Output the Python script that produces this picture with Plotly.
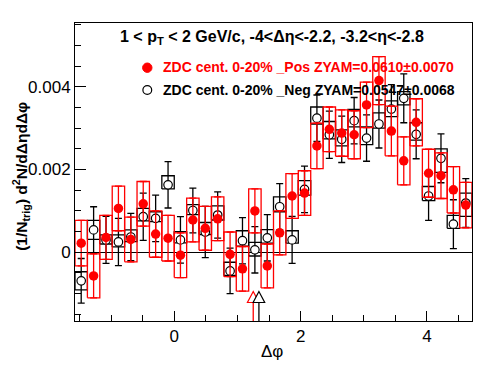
import plotly.graph_objects as go

# ---- data ----
phi_centers = [-1.4726, -1.2763, -1.0799, -0.8836, -0.6872, -0.4909, -0.2945, -0.0982,
               0.0982, 0.2945, 0.4909, 0.6872, 0.8836, 1.0799, 1.2763, 1.4726,
               1.6690, 1.8653, 2.0617, 2.2580, 2.4544, 2.6507, 2.8471, 3.0434,
               3.2398, 3.4361, 3.6325, 3.8288, 4.0252, 4.2215, 4.4179, 4.6142]
bin_width = 0.19635

pos_val = [0.00022, -0.00057, 0.00036, 0.00106, 0.00031, 0.00117, 0.00044, 0.00034,
           -0.00007, 0.00078, 0.00058, 0.00081, -0.00005, -0.00040, 0.00100, -0.00033,
           0.00047, 0.00136, 0.00143, 0.00257, 0.00297, 0.00288, 0.00284, 0.00356,
           0.00415, 0.00293, 0.00221, 0.00314, 0.00191, 0.00185, 0.00151, 0.00114]
pos_err = [0.00055, 0.00053, 0.00053, 0.00054, 0.00054, 0.00054, 0.00056, 0.00055,
           0.00054, 0.00053, 0.00053, 0.00053, 0.00054, 0.00054, 0.00053, 0.00053,
           0.00053, 0.00054, 0.00054, 0.00055, 0.00054, 0.00056, 0.00058, 0.00055,
           0.00058, 0.00060, 0.00058, 0.00057, 0.00058, 0.00055, 0.00056, 0.00055]

neg_val = [-0.00069, 0.00054, 0.00030, 0.00025, 0.00037, 0.00086, 0.00082, 0.00163,
           0.00030, 0.00101, 0.00049, 0.00090, -0.00045, 0.00028, 0.00006, 0.00035,
           0.00110, 0.00030, 0.00152, 0.00324, 0.00284, 0.00273, 0.00318, 0.00276,
           0.00310, 0.00346, 0.00372, 0.00285, 0.00136, 0.00227, 0.00068, 0.00119]
neg_stat = [0.00054, 0.00056, 0.00057, 0.00057, 0.00057, 0.00057, 0.00056, 0.00056,
            0.00056, 0.00054, 0.00062, 0.00056, 0.00055, 0.00056, 0.00056, 0.00056,
            0.00056, 0.00057, 0.00056, 0.00056, 0.00057, 0.00056, 0.00056, 0.00056,
            0.00058, 0.00059, 0.00059, 0.00059, 0.00059, 0.00059, 0.00059, 0.00059]
neg_sys_up = [0.00022, 0.00023, 0.00012, 0.00017, 0.00017, 0.00020, 0.00016, 0.00022,
              0.00020, 0.00014, 0.00023, 0.00022, 0.00021, 0.00024, 0.00018, 0.00020,
              0.00024, 0.00022, 0.00021, 0.00027, 0.00032, 0.00023, 0.00027, 0.00027,
              0.00027, 0.00020, 0.00016, 0.00028, 0.00023, 0.00023, 0.00021, 0.00024]
neg_sys_down = [0.00022, 0.00023, 0.00010, 0.00012, 0.00011, 0.00010, 0.00008, 0.00010,
                0.00007, 0.00010, 0.00006, 0.00012, 0.00011, 0.00013, 0.00015, 0.00013,
                0.00012, 0.00008, 0.00014, 0.00014, 0.00010, 0.00016, 0.00015, 0.00016,
                0.00010, 0.00018, 0.00016, 0.00014, 0.00011, 0.00034, 0.00010, 0.00032]

zyam_pos_phi = 1.25
zyam_neg_phi = 1.34

title_text = "<b>1 < p<sub>T</sub> < 2 GeV/c, -4<Δη<-2.2, -3.2<η<-2.8</b>"
pos_label = "<b>ZDC cent. 0-20% _Pos ZYAM=0.0610±0.0070</b>"
neg_label = "<b>ZDC cent. 0-20% _Neg ZYAM=0.0547±0.0068</b>"
y_title = "<b>(1/N<sub>trig</sub>) d<sup>2</sup>N/dΔηdΔφ</b>"
x_title = "Δφ"

FONT = "Liberation Sans, Arial, Helvetica, sans-serif"
RED = "#ff0000"


def box_outline(xc, lo, hi, w):
    xs, ys = [], []
    for c, a, b in zip(xc, lo, hi):
        xs += [c - w / 2, c + w / 2, c + w / 2, c - w / 2, c - w / 2, None]
        ys += [a, a, b, b, a, None]
    return xs, ys


fig = go.Figure()

# black (Neg) systematic boxes
nb_lo = [v - d for v, d in zip(neg_val, neg_sys_down)]
nb_hi = [v + u for v, u in zip(neg_val, neg_sys_up)]
bx, by = box_outline(phi_centers, nb_lo, nb_hi, bin_width)
fig.add_trace(go.Scatter(x=bx, y=by, mode="lines", line=dict(color="black", width=1.3),
                         hoverinfo="skip", showlegend=False))
# black points with stat errors
fig.add_trace(go.Scatter(x=phi_centers, y=neg_val, mode="markers",
                         marker=dict(symbol="circle", size=8.5, color="white",
                                     line=dict(color="black", width=1.2)),
                         error_y=dict(type="data", array=neg_stat, color="black",
                                      thickness=1.3, width=3.5),
                         showlegend=False))
# red (Pos) boxes
pb_lo = [v - e for v, e in zip(pos_val, pos_err)]
pb_hi = [v + e for v, e in zip(pos_val, pos_err)]
rx, ry = box_outline(phi_centers, pb_lo, pb_hi, bin_width)
fig.add_trace(go.Scatter(x=rx, y=ry, mode="lines", line=dict(color=RED, width=1.3),
                         hoverinfo="skip", showlegend=False))
fig.add_trace(go.Scatter(x=phi_centers, y=pos_val, mode="markers",
                         marker=dict(symbol="circle", size=9.5, color=RED),
                         error_y=dict(type="data", array=pos_err, color=RED,
                                      thickness=1.3, width=3.5),
                         showlegend=False))

shapes = []
# ZYAM arrows at the bottom
for xpos, col in [(zyam_pos_phi, RED), (zyam_neg_phi, "black")]:
    shapes.append(dict(type="line", xref="x", yref="paper", xsizemode="pixel",
                       ysizemode="pixel", xanchor=xpos, yanchor=0,
                       x0=0, x1=0, y0=0, y1=18.5, line=dict(color=col, width=1.3)))
    shapes.append(dict(type="path", xref="x", yref="paper", xsizemode="pixel",
                       ysizemode="pixel", xanchor=xpos, yanchor=0,
                       path="M -5.8 18.5 L 5.8 18.5 L 0 29.5 Z",
                       fillcolor="white", line=dict(color=col, width=1.2)))
# legend markers
shapes.append(dict(type="circle", xref="paper", yref="paper", xsizemode="pixel",
                   ysizemode="pixel", xanchor=0.1821, yanchor=0.850,
                   x0=-4.7, x1=4.7, y0=-4.7, y1=4.7, fillcolor=RED,
                   line=dict(color=RED, width=1)))
shapes.append(dict(type="circle", xref="paper", yref="paper", xsizemode="pixel",
                   ysizemode="pixel", xanchor=0.1821, yanchor=0.7752,
                   x0=-4.4, x1=4.4, y0=-4.4, y1=4.4, fillcolor="white",
                   line=dict(color="black", width=1.2)))

annotations = [
    dict(text=title_text, x=0.4955, y=0.953, xref="paper", yref="paper",
         xanchor="center", yanchor="middle", showarrow=False,
         font=dict(family=FONT, size=16, color="black")),
    dict(text=pos_label, x=0.2159, y=0.8507, xref="paper", yref="paper",
         xanchor="left", yanchor="middle", showarrow=False,
         font=dict(family=FONT, size=14, color=RED)),
    dict(text=neg_label, x=0.2159, y=0.7768, xref="paper", yref="paper",
         xanchor="left", yanchor="middle", showarrow=False,
         font=dict(family=FONT, size=14, color="black")),
    dict(text=y_title, x=-0.1688, y=0.487, xref="paper", yref="paper",
         xanchor="left", yanchor="middle", showarrow=False, textangle=-90,
         font=dict(family=FONT, size=15.5, color="black")),
    dict(text=x_title, x=0.4955, y=-0.103, xref="paper", yref="paper",
         xanchor="center", yanchor="middle", showarrow=False,
         font=dict(family=FONT, size=17, color="black")),
]

# the page body has an 8px margin, so the figure is 8px smaller and its
# left/top margins 8px less to keep the frame at the reference position
fig.update_layout(
    width=488, height=366,
    margin=dict(l=67, r=24, t=15, b=53),
    paper_bgcolor="white", plot_bgcolor="white",
    showlegend=False,
    shapes=shapes, annotations=annotations,
    font=dict(family=FONT, size=17, color="black"),
)
fig.update_xaxes(range=[-1.5708, 4.7124], showgrid=False, zeroline=False,
                 showline=True, mirror=True, linecolor="black", linewidth=1,
                 ticks="inside", ticklen=10, tickwidth=1, tickcolor="black",
                 tick0=0, dtick=2,
                 minor=dict(ticks="inside", ticklen=6, tickwidth=1, tickcolor="black",
                            tick0=0, dtick=0.5, showgrid=False),
                 tickfont=dict(family=FONT, size=17, color="black"))
fig.update_yaxes(range=[-0.00166, 0.00554], showgrid=False,
                 zeroline=True, zerolinecolor="black", zerolinewidth=1,
                 showline=True, mirror=True, linecolor="black", linewidth=1,
                 ticks="inside", ticklen=11, tickwidth=1, tickcolor="black",
                 tick0=0, dtick=0.002,
                 minor=dict(ticks="inside", ticklen=6, tickwidth=1, tickcolor="black",
                            tick0=0, dtick=0.0005, showgrid=False),
                 tickfont=dict(family=FONT, size=17, color="black"))

fig.write_html("out.html")
